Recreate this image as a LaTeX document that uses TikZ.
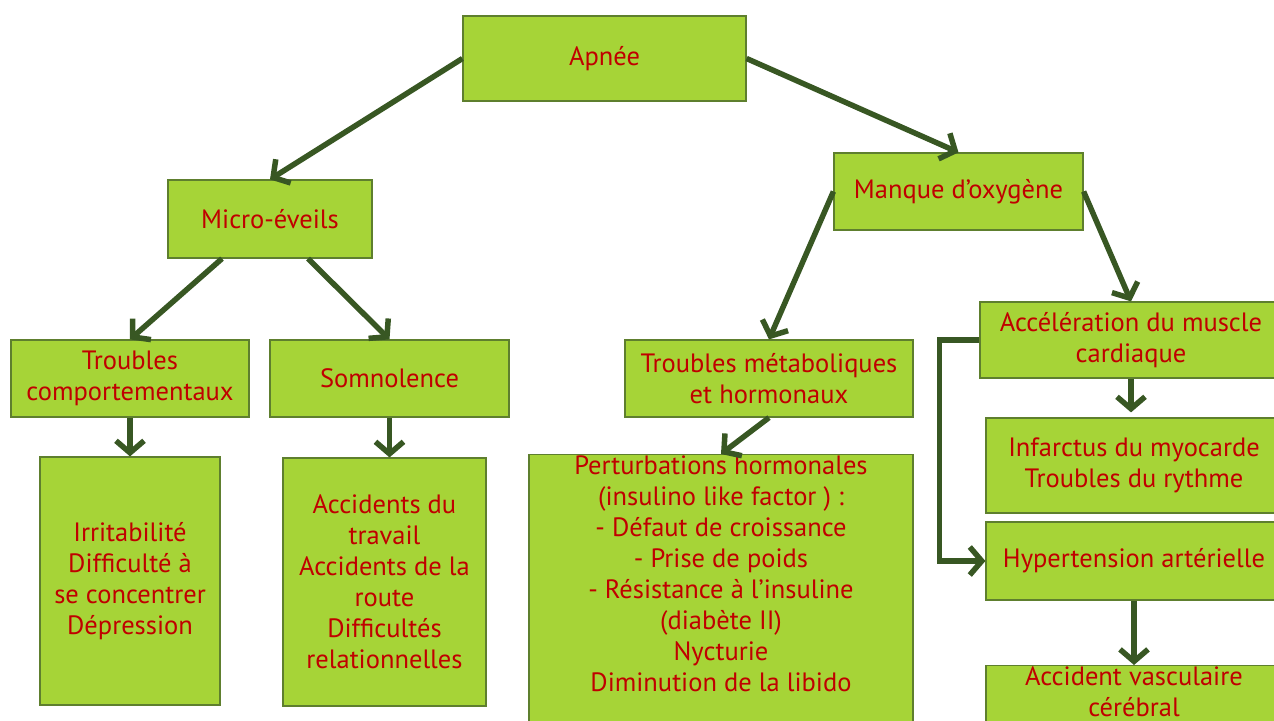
\documentclass[tikz,border=0pt]{standalone}
\usepackage{fontspec}
\setmainfont{PT Sans}
\usetikzlibrary{arrows.meta}

\definecolor{boxGreen}{HTML}{A6D437}
\definecolor{boxBorder}{HTML}{5E7F2E}
\definecolor{textRed}{HTML}{C00000}
\definecolor{arrowGreen}{HTML}{385723}

\tikzstyle{box}=[rectangle, draw=boxBorder, fill=boxGreen, line width=1.2pt, text=textRed, align=center, inner sep=2pt, font=\fontsize{26.5}{31}\selectfont]
\tikzstyle{arrowStyle}=[draw=arrowGreen, line width=5.5pt, -{Straight Barb[length=12pt,width=28pt]}]

\begin{document}
\begin{tikzpicture}[x=1pt, y=-1pt]

	\clip (0,0) rectangle (1274,720);

	% Haut
	\node(apnee) at (604.5,58.5) [box, minimum width=283, minimum height=85] {Apnée};
	\node(micro) at (270,219) [box, minimum width=204, minimum height=78] {Micro-éveils};
	\node(manque) at (958.5,191.5) [box, minimum width=249, minimum height=77] {Manque d’oxygène};

	% Deuxieme rangee
	\node(tcomp) at (130,378.5) [box, minimum width=238, minimum height=77] {Troubles\\comportementaux};
	\node(somno) at (389.5,378.5) [box, minimum width=239, minimum height=77] {Somnolence};
	\node(tmeta) at (769,378.5) [box, minimum width=288, minimum height=77] {Troubles métaboliques\\et hormonaux};
	\node(accel) at (1131,340) [box, minimum width=302, minimum height=76] {Accélération du muscle\\cardiaque};

	% Bas
	\node(irrit) at (130,581) [box, minimum width=180, minimum height=248] {Irritabilité\\Difficulté à\\se concentrer\\Dépression};
	\node(accid) at (384.5,582) [box, minimum width=203, minimum height=248] {Accidents du\\travail\\Accidents de la\\route\\Difficultés\\relationnelles};
	\node(pert) at (721,454) [box, anchor=north, inner sep=0pt] {\parbox[c][310pt][t]{384pt}{\centering\vspace{1pt}Perturbations hormonales\\(insulino like factor ) :\\- Défaut de croissance\\- Prise de poids\\- Résistance à l’insuline\\(diabète II)\\Nycturie\\Diminution de la libido}};
	\node(infarct) at (1134,465.5) [box, minimum width=296, minimum height=95] {Infarctus du myocarde\\Troubles du rythme};
	\node(hyper) at (1134,561) [box, minimum width=296, minimum height=78] {Hypertension artérielle};
	\node(avc) at (1134,665) [box, anchor=north, inner sep=0pt] {\parbox[c][90pt][t]{296pt}{\centering\vspace{1pt}Accident vasculaire\\cérébral}};

	% Fleches
	\draw[arrowStyle] (apnee.west) -- (micro.north);
	\draw[arrowStyle] (apnee.east) -- (manque.north);
	\draw[arrowStyle] ([xshift=-48]micro.south) -- (tcomp.north);
	\draw[arrowStyle] ([xshift=38]micro.south) -- (somno.north);
	\draw[arrowStyle] (tcomp.south) -- (irrit.north);
	\draw[arrowStyle] (somno.south) -- (somno.south |- accid.north);
	\draw[arrowStyle] (manque.west) -- (tmeta.north);
	\draw[arrowStyle] (manque.east) -- (accel.north);
	\draw[arrowStyle] (tmeta.south) -- (pert.north);
	\draw[arrowStyle, shorten >=5pt] (accel.south) -- (accel.south |- infarct.north);
	\draw[arrowStyle] (accel.west) -- ++(-40,0) |- (hyper.west);
	\draw[arrowStyle] (hyper.south) -- (avc.north);

\end{tikzpicture}
\end{document}
